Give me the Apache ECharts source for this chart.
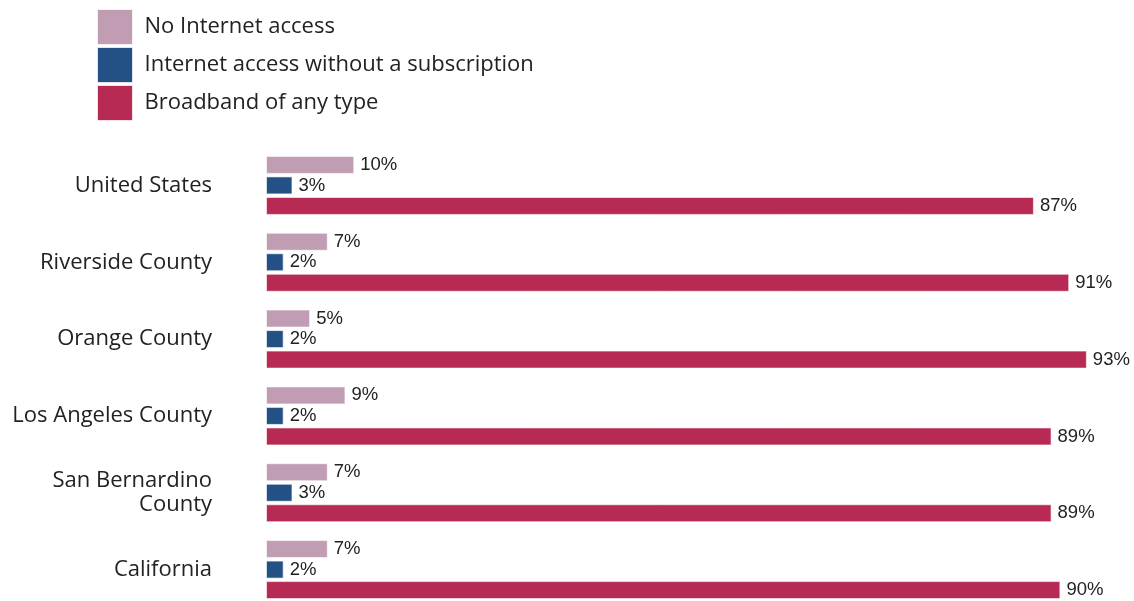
<!DOCTYPE html>
<html>
<head>
<meta charset="utf-8">
<script src="https://cdn.jsdelivr.net/npm/echarts@6/dist/echarts.min.js"></script>
<style>
  html, body { margin: 0; padding: 0; background: #ffffff; }
  #chart { width: 1134px; height: 601px; }
</style>
</head>
<body>
<div id="chart"></div>
<script>
// Household internet access by geography (percent of households)
const categories = [
  'United States',
  'Riverside County',
  'Orange County',
  'Los Angeles County',
  'San Bernardino\nCounty',
  'California'
];
const seriesNames = [
  'No Internet access',
  'Internet access without a subscription',
  'Broadband of any type'
];
const noInternet = [10, 7, 5, 9, 7, 7];
const noSubscription = [3, 2, 2, 2, 3, 2];
const broadband = [87, 91, 93, 89, 89, 90];

const colors = ['#C09DB3', '#235186', '#B72A53'];
const values = [noInternet, noSubscription, broadband];

const chart = echarts.init(document.getElementById('chart'));

chart.setOption({
  animation: false,
  color: colors,
  legend: {
    orient: 'vertical',
    left: 92,
    top: 4,
    itemWidth: 35,
    itemHeight: 35,
    itemGap: 2,
    icon: 'rect',
    data: seriesNames,
    itemStyle: { borderColor: 'rgba(255,255,255,0.7)', borderWidth: 1 },
    textStyle: {
      fontFamily: 'Open Sans',
      fontSize: 22,
      color: '#222222',
      padding: [0, 0, 0, 7]
    }
  },
  grid: {
    left: 266,
    top: 147,
    width: 865,
    height: 461,
    outerBoundsMode: 'none',
    containLabel: false
  },
  xAxis: {
    type: 'value',
    min: 0,
    max: 98,
    show: false
  },
  yAxis: {
    type: 'category',
    inverse: true,
    data: categories,
    axisLine: { show: false },
    axisTick: { show: false },
    splitLine: { show: false },
    axisLabel: {
      margin: 54,
      fontFamily: 'Open Sans',
      fontSize: 22,
      lineHeight: 24,
      color: '#222222',
      align: 'right'
    }
  },
  series: seriesNames.map((name, i) => ({
    name: name,
    type: 'bar',
    data: values[i],
    barWidth: 18,
    barGap: '14%',
    itemStyle: {
      color: colors[i],
      borderColor: 'rgba(255,255,255,0.6)',
      borderWidth: 1
    },
    label: {
      show: true,
      position: 'right',
      distance: 6,
      formatter: '{c}%',
      fontFamily: 'Liberation Sans',
      fontSize: 18.5,
      color: '#222222'
    }
  }))
});
</script>
</body>
</html>
